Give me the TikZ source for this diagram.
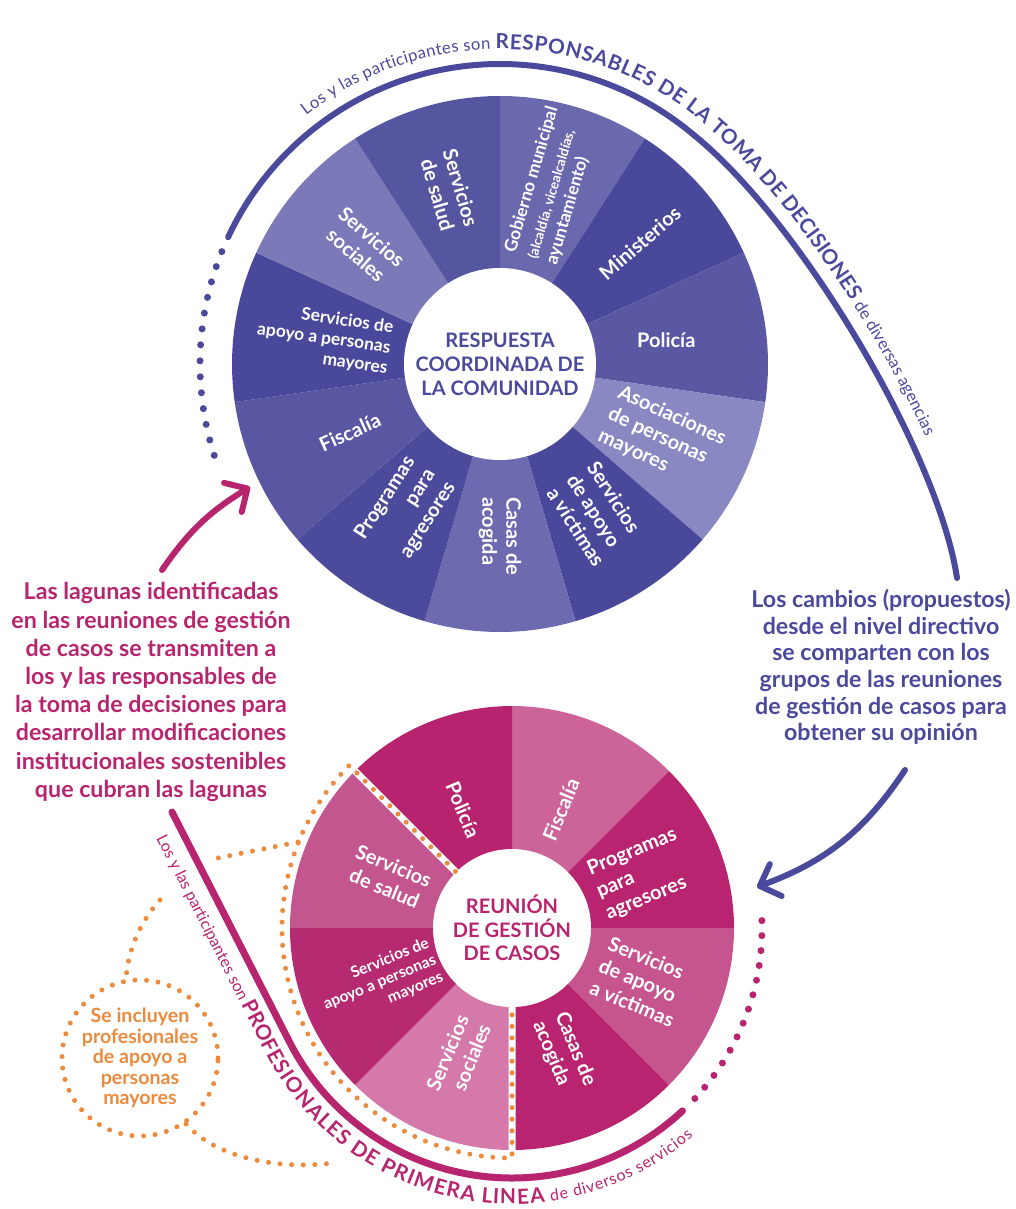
\documentclass[tikz,border=0pt]{standalone}
\usepackage{fontspec}
\setmainfont{Lato}
\usetikzlibrary{arrows.meta,decorations.text}

\definecolor{morado}{HTML}{4B499C}
\definecolor{fucsia}{HTML}{B8256F}
\definecolor{naranja}{HTML}{EC8A3D}
% rueda de arriba
\definecolor{tGob}{HTML}{6B69AE}
\definecolor{tMin}{HTML}{4A489A}
\definecolor{tPol}{HTML}{5A58A3}
\definecolor{tAso}{HTML}{8A88C3}
\definecolor{tVic}{HTML}{4A489A}
\definecolor{tCas}{HTML}{6D6AAF}
\definecolor{tPro}{HTML}{4C4A9B}
\definecolor{tFis}{HTML}{5957A2}
\definecolor{tApm}{HTML}{4A489A}
\definecolor{tSoc}{HTML}{7C79B9}
\definecolor{tSal}{HTML}{5655A0}
% rueda de abajo
\definecolor{bFis}{HTML}{CC6499}
\definecolor{bPro}{HTML}{B8246F}
\definecolor{bVic}{HTML}{C6558F}
\definecolor{bCas}{HTML}{B8246F}
\definecolor{bSoc}{HTML}{D479A9}
\definecolor{bApm}{HTML}{B52A70}
\definecolor{bSal}{HTML}{C3568E}
\definecolor{bPol}{HTML}{B7236E}

\tikzstyle{seg}=[text=white, font=\bfseries\fontsize{10}{12}\selectfont, inner sep=0pt]
\tikzstyle{segchico}=[seg, font=\bfseries\fontsize{8.7}{10.3}\selectfont]
\tikzstyle{centro}=[font=\bfseries\fontsize{10}{12}\selectfont, align=center]
\tikzstyle{parrafo}=[font=\bfseries\fontsize{11.6}{14.1}\selectfont, align=center]
\tikzstyle{puntos}=[line cap=round, dash pattern=on 0pt off 8pt, line width=3.5pt]
\tikzstyle{opuntos}=[draw=naranja, line cap=round, dash pattern=on 0pt off 5.8pt, line width=2.5pt]
\tikzstyle{flecha}=[line width=3pt, line cap=round, -{Straight Barb[length=8.5pt,width=17pt,round]}]

\begin{document}
\begin{tikzpicture}[x=0.5pt, y=0.5pt]
\fill[white] (0,0) rectangle (1016,-1209);
\useasboundingbox (0,0) rectangle (1016,-1209);

% respuesta coordinada
\begin{scope}[shift={(500,-364)}]
  \foreach \col [count=\i from 0] in {tGob,tMin,tPol,tAso,tVic,tCas,tPro,tFis,tApm,tSoc,tSal} {
    \pgfmathsetmacro\ai{90-\i*360/11}
    \pgfmathsetmacro\af{\ai-360/11}
    \fill[\col] (0,0) -- (\ai:268) arc[start angle=\ai, end angle=\af, radius=268] -- cycle;
  }
  \fill[white] (0,0) circle[radius=96];
  \node[centro, text=morado] (rcc) at (0,0) {RESPUESTA\\COORDINADA DE\\LA COMUNIDAD};

  \node[segchico, rotate=73.6, align=left] (gob) at (73.6:186) {Gobierno municipal\\[1pt]\fontsize{6.8}{7.6}\selectfont(alcaldía, vicealcaldías,\\ayuntamiento)};
  \node[seg, rotate=40.9] (min) at (40.9:185) {Ministerios};
  \node[seg] (pol) at (8.2:168) {Policía};
  \node[seg, rotate=-24.5, align=left] (aso) at (-24.5:178) {Asociaciones\\de personas\\mayores};
  \node[seg, rotate=-57.3, align=left] (vic) at (-57.3:178) {Servicios\\de apoyo\\a víctimas};
  \node[seg, rotate=-90, align=left] (cas) at (-90:172) {Casas de\\acogida};
  \node[seg, rotate=57.3, align=right] (pro) at (-122.7:175) {Programas\\para\\agresores};
  \node[seg, rotate=24.5] (fis) at (-155.5:165) {Fiscalía};
  \node[segchico, rotate=-8.2, align=right] (apm) at (171.8:178) {Servicios de\\apoyo a personas\\mayores};
  \node[seg, rotate=-40.9, align=center] (soc) at (139.1:180) {Servicios\\sociales};
  \node[seg, rotate=-73.6, align=center] (sal) at (106.4:180) {Servicios\\de salud};

  % linea de los responsables
  \draw[morado, line width=3pt, line cap=round] (155:300) arc[start angle=155, end angle=50, radius=300]
    .. controls (300,144) and (438,-88) .. (457,-214);
  \path[decorate, decoration={text along path, text color=morado, raise=7.5pt,
    text={|\fontsize{8.3}{10}\selectfont|Los y las participantes son |\bfseries\fontsize{10.3}{12}\selectfont|RESPONSABLES DE LA TOMA DE DECISIONES|\mdseries\fontsize{8.3}{10}\selectfont| de diversas agencias}}]
    (128:300) arc[start angle=128, end angle=50, radius=300]
    .. controls (300,144) and (438,-88) .. (457,-214);
  \draw[morado, puntos] (158:300) arc[start angle=158, end angle=200, radius=300];
\end{scope}

% reunion de gestion
\begin{scope}[shift={(512,-928)}]
  \foreach \col [count=\i from 0] in {bFis,bPro,bVic,bCas,bSoc,bApm,bSal,bPol} {
    \pgfmathsetmacro\ai{90-\i*45}
    \pgfmathsetmacro\af{\ai-45}
    \fill[\col] (0,0) -- (\ai:222) arc[start angle=\ai, end angle=\af, radius=222] -- cycle;
  }
  \draw[white, line width=3.5pt] (135:78) -- (135:222) (270:78) -- (270:222);
  \fill[white] (0,0) circle[radius=79];
  \node[centro, text=fucsia, font=\bfseries\fontsize{10}{11.7}\selectfont] (rgc) at (0,0) {REUNIÓN\\DE GESTIÓN\\DE CASOS};

  \node[seg, rotate=-67.5] (bpol) at (112.5:128) {Policía};
  \node[seg, rotate=67.5] (bfis) at (67.5:128) {Fiscalía};
  \node[seg, rotate=22.5, align=left] (bpro) at (22.5:140) {Programas\\para\\agresores};
  \node[seg, rotate=-22.5, align=left] (bvic) at (-22.5:140) {Servicios\\de apoyo\\a víctimas};
  \node[seg, rotate=-67.5, align=left] (bcas) at (-67.5:136) {Casas de\\acogida};
  \node[seg, rotate=67.5, align=right] (bsoc) at (-112.5:140) {Servicios\\sociales};
  \node[seg, rotate=22.5, align=right, font=\bfseries\fontsize{7.8}{9.2}\selectfont] (bapm) at (-157.5:143) {Servicios de\\apoyo a personas\\mayores};
  \node[seg, rotate=-22.5, align=center] (bsal) at (157.5:133) {Servicios\\de salud};

  % profesionales que se incluyen
  \path[opuntos] (135:80) -- (135:230) arc[start angle=135, end angle=270, radius=230] -- (270:80);

  % linea de los profesionales
  \draw[fucsia, line width=3.5pt, line cap=round] (-340,116) -- (-152:250) arc[start angle=-152, end angle=-47, radius=250];
  \path[decorate, decoration={text along path, text color=fucsia, raise=-13pt, text align={left indent=8pt},
    text={|\fontsize{8}{10}\selectfont|Los y las participantes son |\bfseries\fontsize{10.4}{12}\selectfont|PROFESIONALES DE PRIMERA LINEA|\mdseries\fontsize{8}{10}\selectfont| de diversos servicios}}]
    (-340,116) -- (-152:250) arc[start angle=-152, end angle=-15, radius=250];
  \draw[fucsia, puntos, dash pattern=on 0pt off 7.5pt] (-43:250) arc[start angle=-43, end angle=4, radius=250];
\end{scope}

\node[circle, opuntos, minimum size=78pt, inner sep=0pt, text=naranja, align=center,
  font=\bfseries\fontsize{9.8}{10.3}\selectfont] (incl) at (140,-1058) {Se incluyen\\profesionales\\de apoyo a\\personas\\mayores};
\coordinate (oa) at (298,-842);
\coordinate (ob) at (213,-859);
\coordinate (oc) at (160,-900);
\coordinate (od) at (332,-1163);
\draw[opuntos] (oa) -- (ob);
\draw[opuntos] (oc) .. controls (140,-922) and (128,-950) .. (incl.100);
\draw[opuntos] (incl.-55) .. controls (215,-1158) and (280,-1170) .. (od);

\node[parrafo, text=fucsia] (lagunas) at (151,-692) {Las lagunas identificadas\\en las reuniones de gestión\\de casos se transmiten a\\los y las responsables de\\la toma de decisiones para\\desarrollar modificaciones\\institucionales sostenibles\\que cubran las lagunas};
\node[parrafo, text=morado, font=\bfseries\fontsize{11.6}{13.3}\selectfont] (cambios) at (881,-667) {Los cambios (propuestos)\\desde el nivel directivo\\se comparten con los\\grupos de las reuniones\\de gestión de casos para\\obtener su opinión};

\coordinate (ma0) at (162,-570);
\coordinate (ma1) at (250,-487);
\coordinate (ba0) at (905,-770);
\coordinate (ba1) at (757,-887);
\draw[flecha, fucsia] (ma0) to[bend left=12] (ma1);
\draw[flecha, morado] (ba0) to[bend left=18] (ba1);
\end{tikzpicture}
\end{document}
